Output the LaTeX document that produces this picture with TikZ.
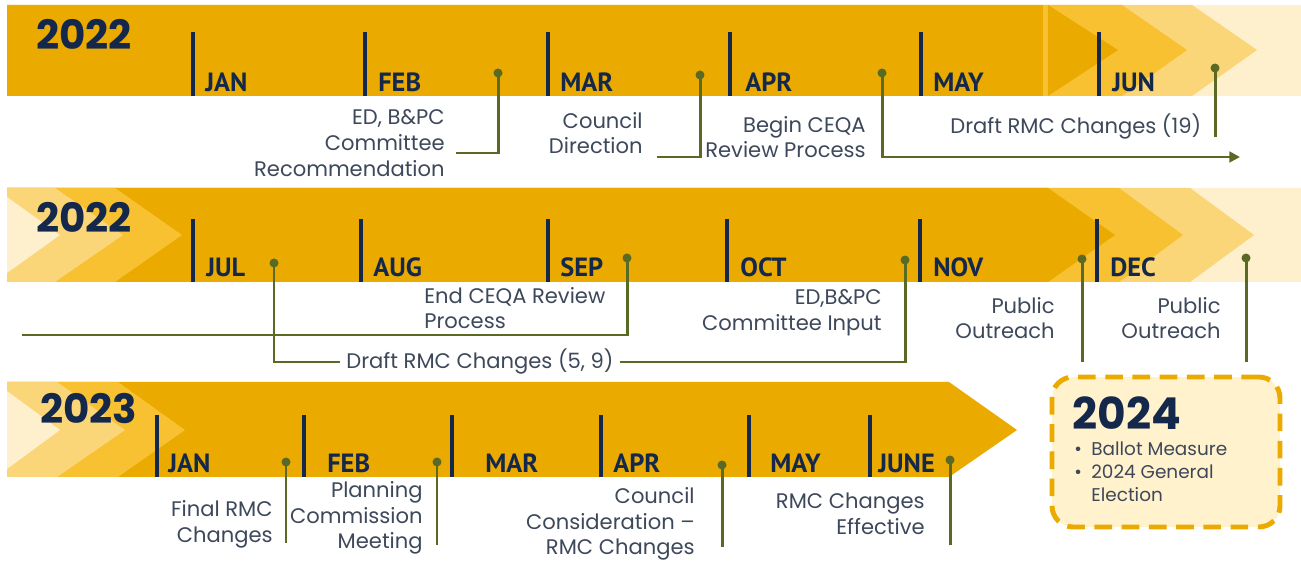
\documentclass[tikz,border=0pt]{standalone}
\usepackage{fontspec}
\setmainfont{Poppins}
\newfontfamily\monthfont{PT Sans}
\usetikzlibrary{arrows.meta}

\definecolor{goldDark}{HTML}{EBAA00}
\definecolor{goldMid}{HTML}{F7C132}
\definecolor{goldLight}{HTML}{FBD678}
\definecolor{goldPale}{HTML}{FEF0CD}
\definecolor{boxFill}{HTML}{FFF2CC}
\definecolor{navyText}{HTML}{14284B}
\definecolor{noteGray}{HTML}{3D485A}
\definecolor{linkGreen}{HTML}{5A6A24}

\begin{document}
\begin{tikzpicture}[x=0.02cm, y=-0.02cm,
    year/.style={anchor=base west, inner sep=0, text=navyText,
        font=\fontsize{23}{23}\selectfont\bfseries},
    month/.style={anchor=base west, inner sep=0, text=navyText,
        font=\monthfont\bfseries\fontsize{15}{15}\selectfont},
    tick/.style={draw=navyText, line width=2.3pt},
    note/.style={inner sep=0, text=noteGray, align=right,
        font=\fontsize{12}{14.6}\selectfont},
    link/.style={draw=linkGreen, line width=1.7pt},
    dot/.style={circle, fill=linkGreen, inner sep=0, minimum size=0.18cm},
    future/.style={draw=goldDark, fill=boxFill, line width=2.8pt,
        dash pattern=on 10pt off 5.5pt, rounded corners=0.42cm,
        minimum width=4.56cm, minimum height=3cm}
]
    \useasboundingbox (0,0) rectangle (1301,563);

    % band 2022, first half
    \fill[goldPale] (7,5) rectangle (1301,96);
    \fill[goldLight] (7,5) -- (1192,5) -- (1257,50) -- (1192,96) -- (7,96) -- cycle;
    \fill[goldMid] (7,5) -- (1122,5) -- (1187,50) -- (1122,96) -- (7,96) -- cycle;
    \fill[goldDark] (7,5) rectangle (1043,96);
    \fill[goldDark] (1048,5) -- (1118,50) -- (1048,96) -- cycle;

    % band 2022, second half
    \fill[goldPale] (7,188) rectangle (1301,282);
    \fill[goldLight] (7,188) -- (1190,188) -- (1254,235) -- (1190,282) -- (7,282) -- cycle;
    \fill[goldMid] (7,188) -- (1119,188) -- (1183,235) -- (1119,282) -- (7,282) -- cycle;
    \fill[goldDark] (7,188) -- (1048,188) -- (1115,235) -- (1048,282) -- (7,282) -- cycle;
    \fill[goldMid] (7,188) -- (115,188) -- (182,235) -- (115,282) -- (7,282) -- cycle;
    \fill[goldLight] (7,188) -- (55,188) -- (123,235) -- (55,282) -- (7,282) -- cycle;
    \fill[goldPale] (7,197) -- (60,235) -- (7,273) -- cycle;

    % band 2023
    \fill[goldDark] (7,382) -- (949,382) -- (1017,430) -- (949,477) -- (7,477) -- cycle;
    \fill[goldMid] (7,382) -- (118,382) -- (185,430) -- (118,477) -- (7,477) -- cycle;
    \fill[goldLight] (7,382) -- (57,382) -- (125,430) -- (57,477) -- (7,477) -- cycle;
    \fill[goldPale] (7,391) -- (60,430) -- (7,469) -- cycle;

    % years
    \node[year] (y2022a) at (36,50) {2022};
    \node[year] (y2022b) at (36,233) {2022};
    \node[year] (y2023) at (40,424) {2023};

    % months, first row
    \draw[tick] (193,32) -- (193,96);
    \draw[tick] (365,32) -- (365,96);
    \draw[tick] (548,32) -- (548,96);
    \draw[tick] (730,32) -- (730,96);
    \draw[tick] (921,32) -- (921,96);
    \draw[tick] (1099,32) -- (1099,96);
    \node[month] (jan1) at (205,92) {JAN};
    \node[month] (feb1) at (378,92) {FEB};
    \node[month] (mar1) at (560,92) {MAR};
    \node[month] (apr1) at (745,92) {APR};
    \node[month] (may1) at (933,92) {MAY};
    \node[month] (jun1) at (1112,92) {JUN};

    % months, second row
    \draw[tick] (193,219) -- (193,282);
    \draw[tick] (361,219) -- (361,282);
    \draw[tick] (548,219) -- (548,282);
    \draw[tick] (727,219) -- (727,282);
    \draw[tick] (920,219) -- (920,282);
    \draw[tick] (1097,219) -- (1097,282);
    \node[month] (jul2) at (206,277) {JUL};
    \node[month] (aug2) at (373,277) {AUG};
    \node[month] (sep2) at (560,277) {SEP};
    \node[month] (oct2) at (740,277) {OCT};
    \node[month] (nov2) at (933,277) {NOV};
    \node[month] (dec2) at (1110,277) {DEC};

    % months, third row
    \draw[tick] (157,415) -- (157,477);
    \draw[tick] (304,415) -- (304,477);
    \draw[tick] (452,415) -- (452,477);
    \draw[tick] (601,415) -- (601,477);
    \draw[tick] (749,415) -- (749,477);
    \draw[tick] (870,415) -- (870,477);
    \node[month] (jan3) at (168,473) {JAN};
    \node[month] (feb3) at (327,473) {FEB};
    \node[month] (mar3) at (485,473) {MAR};
    \node[month] (apr3) at (613,473) {APR};
    \node[month] (may3) at (770,473) {MAY};
    \node[month] (june3) at (878,473) {JUNE};

    % first row milestones
    \node[note, anchor=east] (edNote) at (445,143) {ED, B\&PC\\Committee\\Recommendation};
    \node[dot] (edDot) at (498,73) {};
    \coordinate (edEnd) at (456,153);
    \draw[link] (edDot.center) |- (edEnd);

    \node[note, anchor=east] (councilNote) at (643,133) {Council\\Direction};
    \node[dot] (councilDot) at (700,75) {};
    \coordinate (councilEnd) at (657,157);
    \draw[link] (councilDot.center) |- (councilEnd);

    \node[note, anchor=east] (ceqaNote) at (866,137) {Begin CEQA\\Review Process};
    \node[dot] (ceqaDot) at (882,73) {};
    \coordinate (ceqaEnd) at (1240,157);
    \draw[link, -{Triangle[length=6pt, width=6pt]}] (ceqaDot.center) |- (ceqaEnd);

    \node[note, anchor=west] (draftNote) at (950,127) {Draft RMC Changes (19)};
    \node[dot] (junDot) at (1215,68) {};
    \coordinate (junEnd) at (1215,137);
    \draw[link] (junDot.center) -- (junEnd);

    % second row milestones
    \node[note, anchor=west, align=left] (endNote) at (424,308) {End CEQA Review\\Process};
    \node[dot] (sepDot) at (627,258) {};
    \coordinate (endEnd) at (22,335);
    \draw[link] (sepDot.center) |- (endEnd);

    \node[note, inner xsep=0.12cm] (draftMid) at (480,362) {Draft RMC Changes (5, 9)};
    \node[dot] (julDot) at (274,263) {};
    \node[dot] (octDot) at (905,260) {};
    \draw[link] (julDot.center) |- (draftMid.west);
    \draw[link] (draftMid.east) -| (octDot.center);

    \node[note, anchor=east] (inputNote) at (882,313) {ED,B\&PC\\Committee Input};

    \node[note, anchor=east] (novNote) at (1055,318) {Public\\Outreach};
    \node[dot] (novDot) at (1082,259) {};
    \coordinate (novEnd) at (1082,362);
    \draw[link] (novDot.center) -- (novEnd);

    \node[note, anchor=east] (decNote) at (1221,318) {Public\\Outreach};
    \node[dot] (decDot) at (1246,258) {};
    \coordinate (decEnd) at (1246,362);
    \draw[link] (decDot.center) -- (decEnd);

    % third row milestones
    \node[note, anchor=east] (finalNote) at (273,524) {Final RMC\\Changes};
    \node[dot] (finalDot) at (286,462) {};
    \coordinate (finalEnd) at (286,543);
    \draw[link] (finalDot.center) -- (finalEnd);

    \node[note, anchor=east] (planNote) at (423,518) {Planning\\Commission\\Meeting};
    \node[dot] (planDot) at (437,462) {};
    \coordinate (planEnd) at (437,545);
    \draw[link] (planDot.center) -- (planEnd);

    \node[note, anchor=east] (considerNote) at (695,524) {Council\\Consideration --\\RMC Changes};
    \node[dot] (considerDot) at (722,465) {};
    \coordinate (considerEnd) at (722,547);
    \draw[link] (considerDot.center) -- (considerEnd);

    \node[note, anchor=east] (effectNote) at (925,514) {RMC Changes\\Effective};
    \node[dot] (effectDot) at (950,460) {};
    \coordinate (effectEnd) at (950,545);
    \draw[link] (effectDot.center) -- (effectEnd);

    % 2024
    \node[future] (box2024) at (1166,452) {};
    \node[year, font=\fontsize{25}{25}\selectfont\bfseries] (y2024) at (1072,430) {2024};
    \node[note, anchor=north west, align=left, font=\fontsize{10.5}{13.3}\selectfont]
        (ballot) at (1074,441) {\makebox[0.34cm][l]{•}Ballot Measure\\
        \makebox[0.34cm][l]{•}2024 General\\\hspace*{0.34cm}Election};
\end{tikzpicture}
\end{document}
